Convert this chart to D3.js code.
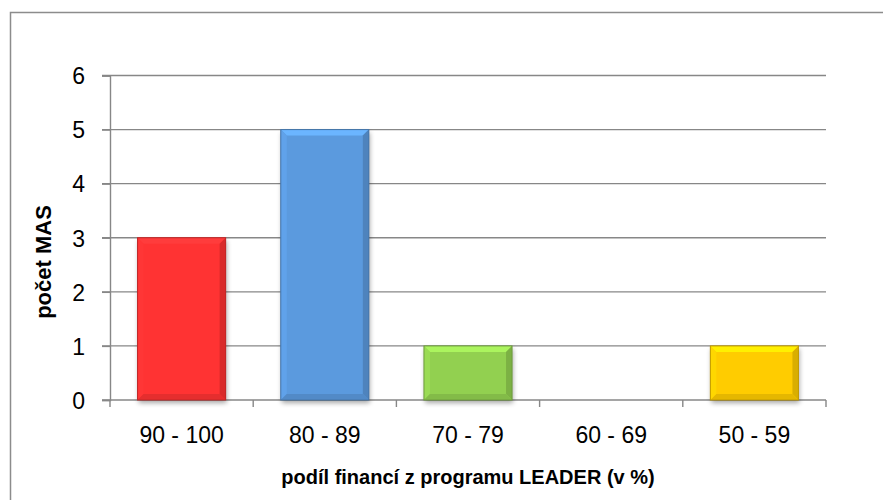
<!DOCTYPE html>
<html>
<head>
<meta charset="utf-8">
<script src="https://cdn.jsdelivr.net/npm/d3@7"></script>
<style>
  body { margin: 0; background: #fff; }
  svg { display: block; font-family: "Liberation Sans", Arial, sans-serif; }
</style>
</head>
<body>
<div id="chart"></div>
<script>
const categories = ["90 - 100", "80 - 89", "70 - 79", "60 - 69", "50 - 59"];
const counts = [3, 5, 1, 0, 1];
const barColors = ["#ff3333", "#5b9ade", "#92d050", "#7f7f7f", "#ffcc00"];
const yTicks = [0, 1, 2, 3, 4, 5, 6];
const xTitle = "podíl financí z programu LEADER (v %)";
const yTitle = "počet MAS";

const width = 883;
const height = 500;
const marginLeft = 110;
const marginRight = 57;
const marginTop = 75.5;
const marginBottom = 100;

const svg = d3.select("#chart")
  .append("svg")
  .attr("width", width)
  .attr("height", height);

const defs = svg.append("defs");
const blur = defs.append("filter")
  .attr("id", "shadow")
  .attr("x", "-20%").attr("y", "-20%")
  .attr("width", "140%").attr("height", "140%");
blur.append("feGaussianBlur").attr("stdDeviation", 2.5);

// outer chart border (right / bottom edges fall outside the window)
svg.append("rect")
  .attr("x", 10.5).attr("y", 12.5)
  .attr("width", 900).attr("height", 520)
  .attr("fill", "none")
  .attr("stroke", "#8c8c8c")
  .attr("stroke-width", 1.5);

const x = d3.scaleBand()
  .domain(categories)
  .range([marginLeft, width - marginRight])
  .padding(0);

const y = d3.scaleLinear()
  .domain([0, 6])
  .range([height - marginBottom, marginTop]);

// gridlines
svg.append("g")
  .selectAll("line")
  .data(yTicks)
  .join("line")
  .attr("x1", marginLeft - 8)
  .attr("x2", width - marginRight)
  .attr("y1", d => y(d))
  .attr("y2", d => y(d))
  .attr("stroke", "#878787")
  .attr("stroke-width", 1.4);

// y axis
const yAxis = svg.append("g")
  .attr("transform", `translate(${marginLeft},0)`)
  .call(d3.axisLeft(y).tickValues(yTicks).tickFormat(d3.format("d")).tickSize(8).tickPadding(17));
yAxis.select(".domain").attr("stroke", "#878787").attr("stroke-width", 1.4);
yAxis.selectAll(".tick line").attr("stroke", "#878787").attr("stroke-width", 1.4);
yAxis.selectAll(".tick text")
  .attr("font-size", 23)
  .attr("font-family", "Liberation Sans, Arial, sans-serif")
  .attr("fill", "#000")
  .attr("dy", "0.36em");

// x axis ticks at category boundaries
const bounds = categories.map(c => x(c)).concat([x(categories[categories.length - 1]) + x.bandwidth()]);
svg.append("g")
  .selectAll("line")
  .data(bounds)
  .join("line")
  .attr("x1", d => d).attr("x2", d => d)
  .attr("y1", y(0)).attr("y2", y(0) + 7)
  .attr("stroke", "#878787")
  .attr("stroke-width", 1.4);

svg.append("g")
  .selectAll("text")
  .data(categories)
  .join("text")
  .attr("x", d => x(d) + x.bandwidth() / 2)
  .attr("y", 443)
  .attr("text-anchor", "middle")
  .attr("font-size", 23)
  .text(d => d);

// bars with bevel
const barW = x.bandwidth() * 0.615;
const bev = 6;
const data = categories.map((c, i) => ({ cat: c, value: counts[i], color: barColors[i] }))
  .filter(d => d.value > 0);

const bars = svg.append("g")
  .selectAll("g")
  .data(data)
  .join("g")
  .attr("transform", d => `translate(${x(d.cat) + (x.bandwidth() - barW) / 2},${y(d.value)})`);

bars.append("rect")
  .attr("x", 1).attr("y", 3)
  .attr("width", barW).attr("height", d => y(0) - y(d.value))
  .attr("fill", "#000")
  .attr("opacity", 0.35)
  .attr("filter", "url(#shadow)");

bars.append("rect")
  .attr("width", barW)
  .attr("height", d => y(0) - y(d.value))
  .attr("fill", d => d.color);

// top facet
bars.append("polygon")
  .attr("points", d => `0,0 ${barW},0 ${barW - bev},${bev} ${bev},${bev}`)
  .attr("fill", d => d3.color(d.color).brighter(0.45));
// left facet
bars.append("polygon")
  .attr("points", d => {
    const h = y(0) - y(d.value);
    return `0,0 ${bev},${bev} ${bev},${h - bev} 0,${h}`;
  })
  .attr("fill", d => d3.color(d.color).brighter(0.15));
// right facet
bars.append("polygon")
  .attr("points", d => {
    const h = y(0) - y(d.value);
    return `${barW},0 ${barW},${h} ${barW - bev},${h - bev} ${barW - bev},${bev}`;
  })
  .attr("fill", d => d3.color(d.color).darker(0.45));
// bottom facet
bars.append("polygon")
  .attr("points", d => {
    const h = y(0) - y(d.value);
    return `0,${h} ${barW},${h} ${barW - bev},${h - bev} ${bev},${h - bev}`;
  })
  .attr("fill", d => d3.color(d.color).darker(0.3));

bars.append("rect")
  .attr("width", barW)
  .attr("height", d => y(0) - y(d.value))
  .attr("fill", "none")
  .attr("stroke", d => d3.color(d.color).darker(0.8))
  .attr("stroke-width", 1);

// axis titles
svg.append("text")
  .attr("x", (marginLeft + width - marginRight) / 2)
  .attr("y", 484)
  .attr("text-anchor", "middle")
  .attr("font-size", 20)
  .attr("font-weight", "bold")
  .text(xTitle);

svg.append("text")
  .attr("transform", "translate(51,262) rotate(-90)")
  .attr("text-anchor", "middle")
  .attr("font-size", 22)
  .attr("font-weight", "bold")
  .text(yTitle);
</script>
</body>
</html>
